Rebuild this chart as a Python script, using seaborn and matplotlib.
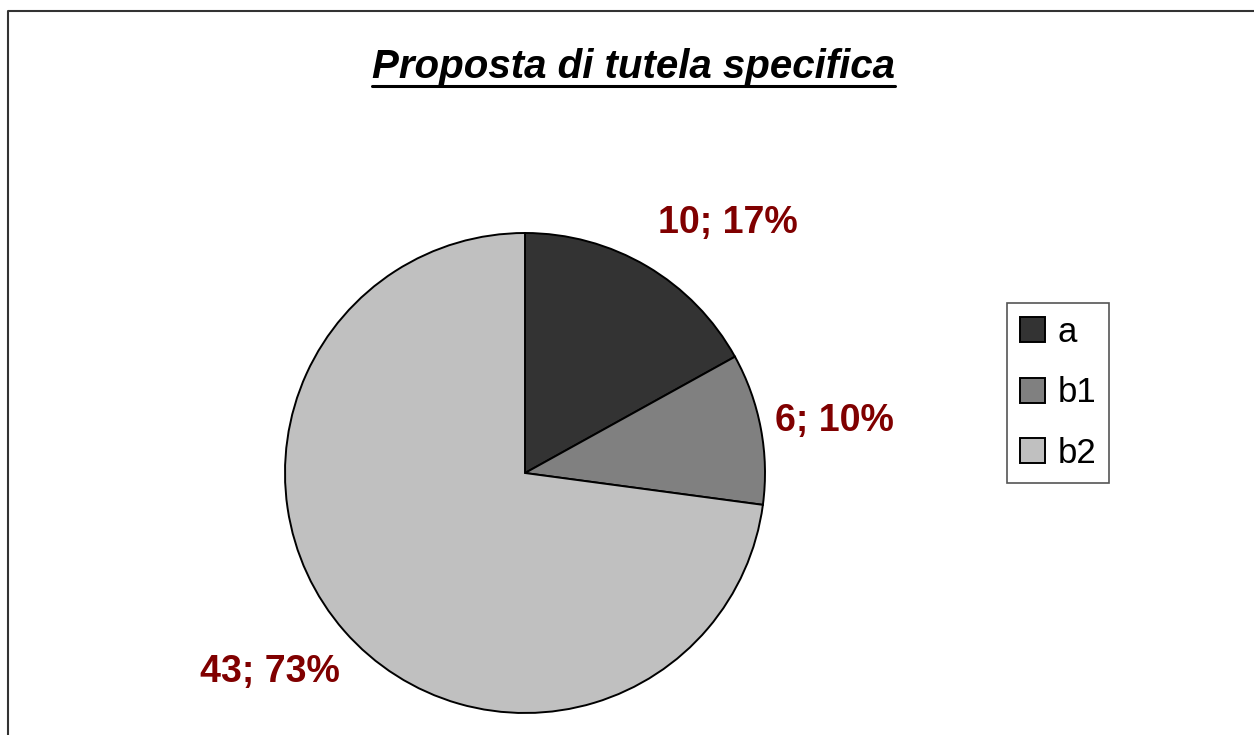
import matplotlib
matplotlib.use("Agg")
import matplotlib.pyplot as plt
import seaborn as sns
from matplotlib.lines import Line2D

categories = ["a", "b1", "b2"]
values = [10, 6, 43]
colors = ["#333333", "#808080", "#C0C0C0"]
title = "Proposta di tutela specifica"

sns.set_theme(style="white")
plt.rcParams["font.family"] = ["Liberation Sans", "DejaVu Sans"]

W, H = 1254, 735
fig = plt.figure(figsize=(W / 100, H / 100), dpi=100)
fig.patch.set_facecolor("white")
ax = fig.add_axes([0, 0, 1, 1])
ax.set_axis_off()

wedges, _ = ax.pie(values, colors=colors, startangle=90, counterclock=False,
                   center=(525, H - 473), radius=240,
                   wedgeprops=dict(edgecolor="black", linewidth=1.4))
ax.set_xlim(0, W)
ax.set_ylim(0, H)
ax.set_aspect("equal")

total = sum(values)
label_pos = [(728, 233), (834, 431), (270, 682)]  # pixel (x center, baseline)
for v, (px, py) in zip(values, label_pos):
    ax.text(px, H - py, f"{v}; {round(100 * v / total)}%", ha="center", va="baseline",
            fontsize=27, fontweight="bold", color="#800000")

# title with underline
t = fig.text(633 / W, 1 - 78 / H, title, ha="center", va="baseline",
             fontsize=29, fontweight="bold", fontstyle="italic", color="black")
fig.canvas.draw()
bb = t.get_window_extent()
uy = 1 - 86 / H
fig.add_artist(Line2D([bb.x0 / W, bb.x1 / W], [uy, uy], transform=fig.transFigure,
                      color="black", linewidth=2.2))

# legend
leg = fig.legend(wedges, categories, loc="upper left",
                 bbox_to_anchor=(1007 / W, 1 - 303 / H), borderaxespad=0,
                 fontsize=25, frameon=True, fancybox=False, framealpha=1,
                 edgecolor="#555555", handlelength=0.72, handleheight=0.72,
                 handletextpad=0.36, labelspacing=0.79, borderpad=0.37,
                 labelcolor="black")
leg.get_frame().set_linewidth(1.2)

# outer frame (cropped at right and bottom)
fig.add_artist(Line2D([7.5 / W, 7.5 / W, 1.0], [0, 1 - 11 / H, 1 - 11 / H],
                      transform=fig.transFigure, color="#333333", linewidth=1.5))

fig.savefig("out.png", dpi=100, facecolor="white")
